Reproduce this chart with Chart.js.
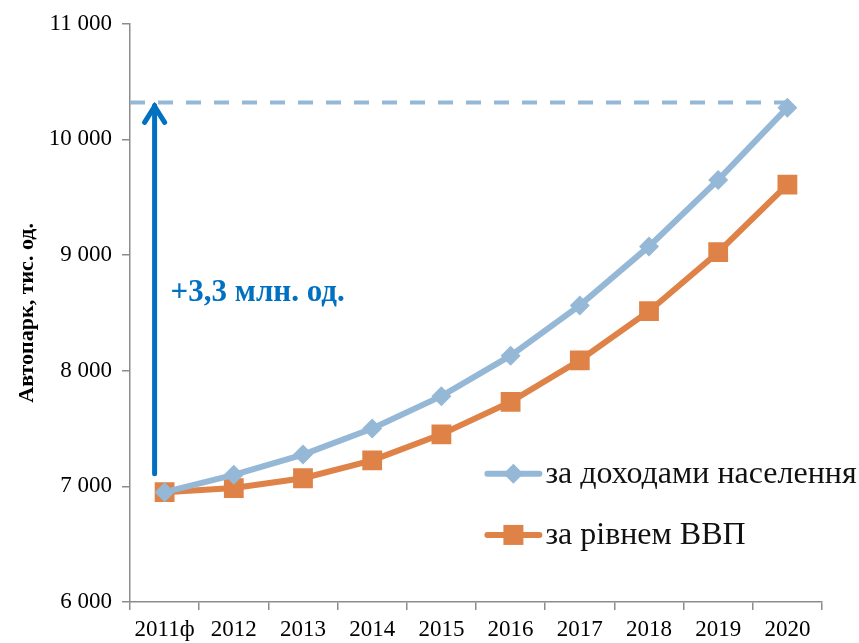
<!DOCTYPE html>
<html>
<head>
<meta charset="utf-8">
<script src="https://cdn.jsdelivr.net/npm/chart.js@4.4.1/dist/chart.umd.min.js"></script>
<style>
  html, body { margin: 0; padding: 0; background: #fff; }
  #wrap { width: 859px; height: 643px; }
</style>
</head>
<body>
<div id="wrap"><canvas id="chart"></canvas></div>
<script>
var years = ['2011ф', '2012', '2013', '2014', '2015', '2016', '2017', '2018', '2019', '2020'];
var incomeSeries = [6950, 7100, 7275, 7500, 7780, 8130, 8565, 9075, 9650, 10275];
var gdpSeries = [6950, 6985, 7070, 7225, 7450, 7730, 8090, 8515, 9025, 9610];
var seriesNames = ['за доходами населення', 'за рівнем ВВП'];
var targetLevel = 10320;   // dashed line level
var arrowFrom = 7110;      // arrow start
var growthLabel = '+3,3 млн. од.';

var serif = '"Liberation Serif", "Times New Roman", serif';
var blue = '#95B8D6';
var orange = '#DF8247';
var arrowBlue = '#0070C0';
var axisGrey = '#8C8C8C';

// dashed level line, arrow, label and legend
var extras = {
  id: 'extras',
  afterDatasetsDraw: function(chart) {
    var ctx = chart.ctx;
    var x = chart.scales.x, y = chart.scales.y;
    var area = chart.chartArea;
    var yTop = y.getPixelForValue(targetLevel);

    ctx.save();
    ctx.strokeStyle = blue;
    ctx.lineWidth = 4;
    ctx.setLineDash([15, 13]);
    ctx.beginPath();
    ctx.moveTo(area.left, yTop);
    ctx.lineTo(x.getPixelForValue(years.length - 1), yTop);
    ctx.stroke();
    ctx.setLineDash([]);

    var ax = x.getPixelForValue(0) - 10;
    var yBot = y.getPixelForValue(arrowFrom);
    ctx.strokeStyle = arrowBlue;
    ctx.lineWidth = 5;
    ctx.lineCap = 'round';
    ctx.beginPath();
    ctx.moveTo(ax, yBot);
    ctx.lineTo(ax, yTop + 3);
    ctx.stroke();
    ctx.beginPath();
    ctx.moveTo(ax - 10, yTop + 20);
    ctx.lineTo(ax, yTop + 4);
    ctx.lineTo(ax + 10, yTop + 20);
    ctx.stroke();

    ctx.fillStyle = arrowBlue;
    ctx.font = 'bold 31px ' + serif;
    ctx.textBaseline = 'alphabetic';
    ctx.textAlign = 'left';
    ctx.fillText(growthLabel, ax + 16, y.getPixelForValue(8600));

    // legend
    var items = [
      { text: seriesNames[0], color: blue, shape: 'diamond', val: 7110 },
      { text: seriesNames[1], color: orange, shape: 'square', val: 6580 }
    ];
    var lx = x.getPixelForValue(4) + 46;
    items.forEach(function(it) {
      var ly = y.getPixelForValue(it.val);
      ctx.strokeStyle = it.color;
      ctx.lineWidth = 6;
      ctx.lineCap = 'round';
      ctx.beginPath();
      ctx.moveTo(lx, ly);
      ctx.lineTo(lx + 52, ly);
      ctx.stroke();
      ctx.fillStyle = it.color;
      var cx = lx + 26;
      ctx.beginPath();
      if (it.shape === 'diamond') {
        ctx.moveTo(cx, ly - 10); ctx.lineTo(cx + 10, ly);
        ctx.lineTo(cx, ly + 10); ctx.lineTo(cx - 10, ly);
      } else {
        ctx.rect(cx - 10, ly - 10, 20, 20);
      }
      ctx.closePath();
      ctx.fill();
      ctx.fillStyle = '#111';
      ctx.font = '32px ' + serif;
      ctx.textBaseline = 'middle';
      ctx.fillText(it.text, lx + 58, ly + 1);
    });
    ctx.restore();
  }
};

new Chart(document.getElementById('chart'), {
  type: 'line',
  data: {
    labels: years,
    datasets: [
      {
        label: seriesNames[0],
        data: incomeSeries,
        borderColor: blue,
        backgroundColor: blue,
        borderWidth: 6,
        pointStyle: 'rectRot',
        pointRadius: 10,
        pointHoverRadius: 10,
        pointBorderWidth: 0,
        tension: 0
      },
      {
        label: seriesNames[1],
        data: gdpSeries,
        borderColor: orange,
        backgroundColor: orange,
        borderWidth: 6,
        pointStyle: 'rect',
        pointRadius: 14,
        pointHoverRadius: 14,
        pointBorderWidth: 0,
        tension: 0
      }
    ]
  },
  options: {
    responsive: true,
    maintainAspectRatio: false,
    animation: false,
    layout: { padding: { top: 16, right: 37, left: 0, bottom: 0 } },
    plugins: {
      legend: { display: false },
      tooltip: { enabled: false }
    },
    scales: {
      x: {
        offset: true,
        grid: { offset: true, drawOnChartArea: false, color: axisGrey, tickLength: 8, lineWidth: 1.5 },
        border: { color: axisGrey, width: 1.5 },
        ticks: { color: '#000', font: { family: serif, size: 23 }, padding: 6, maxRotation: 0, autoSkip: false },
        afterFit: function(s) { s.height = 41; }
      },
      y: {
        min: 6000,
        max: 11000,
        grid: { drawOnChartArea: false, color: axisGrey, tickLength: 8, lineWidth: 1.5 },
        border: { color: axisGrey, width: 1.5 },
        ticks: {
          stepSize: 1000,
          color: '#000',
          font: { family: serif, size: 23 },
          padding: 10,
          callback: function(v) {
            return String(v).replace(/\B(?=(\d{3})+(?!\d))/g, ' ');
          }
        },
        title: {
          display: true,
          text: 'Автопарк, тис. од.',
          color: '#000',
          font: { family: serif, size: 22, weight: 'bold' },
          padding: { top: 14, bottom: 0 }
        },
        afterFit: function(s) { s.width = 130; }
      }
    }
  },
  plugins: [extras]
});
</script>
</body>
</html>
